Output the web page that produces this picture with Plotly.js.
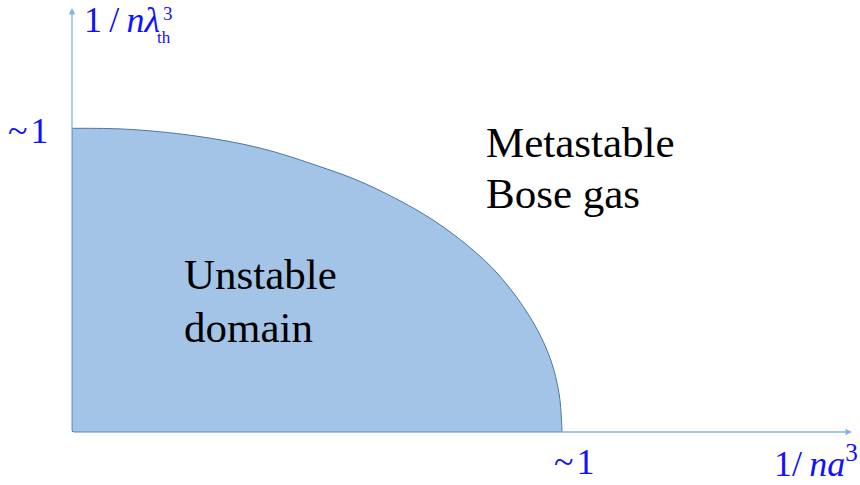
<!DOCTYPE html>
<html>
<head>
<meta charset="utf-8">
<script src="https://cdn.plot.ly/plotly-3.0.1.min.js"></script>
<style>html,body{margin:0;padding:0;background:#fff;}#chart{width:860px;height:485px;}</style>
</head>
<body>
<div id="chart"></div>
<script>
// Boundary of the unstable domain (x = 1/na^3, y = 1/nλ_th^3), scaled so that "~1" = 1
const boundaryX = [0, 0.112, 0.247, 0.384, 0.506, 0.601, 0.737, 0.841, 0.894, 0.945, 0.977, 0.994, 0.999, 1.0];
const boundaryY = [0.999, 0.996, 0.975, 0.934, 0.873, 0.815, 0.697, 0.566, 0.472, 0.35, 0.237, 0.127, 0.039, 0.0];
const tickLabel = "~\u200A1";
const xAxisLabel = "1/\u2009<i>na</i><sup>3</sup>";
const yAxisLabelMain = "1\u2009/\u2009<i>nλ</i>";
const yAxisLabelSup = "3";
const yAxisLabelSub = "th";
const regionLabels = [["Unstable", "domain"], ["Metastable", "Bose gas"]];

const W = 860, H = 485;
const L = 72, R = 8, T = 8, B = 53;
const pxPerX = 490, pxPerY = 304;
const plotW = W - L - R, plotH = H - T - B;
const xMax = plotW / pxPerX;
const yMax = plotH / pxPerY;
const pxX = p => (p - L) / plotW;      // pixel -> paper x
const pxY = p => (H - B - p) / plotH;  // pixel -> paper y

const serif = "Liberation Serif";
const blue = "#1212ff";
const axisCol = "#86b3de";
const edgeCol = "#4a78a6";

const n = boundaryX.length;
const fillTrace = {
  x: boundaryX, y: boundaryY, type: "scatter", mode: "lines",
  fill: "tozeroy", fillcolor: "#a3c4e6",
  line: {color: edgeCol, width: 1, shape: "spline", smoothing: 1},
  hoverinfo: "skip", cliponaxis: false
};
const leftEdge = {
  x: [boundaryX[0], boundaryX[0]], y: [0, boundaryY[0]], type: "scatter", mode: "lines",
  line: {color: edgeCol, width: 1.5}, hoverinfo: "skip", cliponaxis: false
};
const bottomEdge = {
  x: [boundaryX[0], boundaryX[n - 1]], y: [0, 0], type: "scatter", mode: "lines",
  line: {color: edgeCol, width: 1.5}, hoverinfo: "skip", cliponaxis: false
};

const ann = [];
// axis arrows
ann.push({x: xMax, y: 0, ax: 0, ay: 0, xref: "x", yref: "y", axref: "x", ayref: "y",
  showarrow: true, arrowhead: 2, arrowsize: 1, arrowwidth: 1.3, arrowcolor: axisCol, text: ""});
ann.push({x: 0, y: yMax, ax: 0, ay: 0, xref: "x", yref: "y", axref: "x", ayref: "y",
  showarrow: true, arrowhead: 2, arrowsize: 1, arrowwidth: 1.3, arrowcolor: axisCol, text: ""});

function txt(t, px, py, xanchor, size, color) {
  ann.push({xref: "paper", yref: "paper", x: pxX(px), y: pxY(py), xanchor: xanchor, yanchor: "middle",
    text: t, showarrow: false, font: {family: serif, size: size, color: color}});
}
// "~1" labels on the axes
txt(tickLabel, 50, 131, "right", 36, blue);
txt(tickLabel, 574, 462, "center", 36, blue);
// axis titles
txt(xAxisLabel, 860, 462, "right", 36, blue);
txt(yAxisLabelMain, 82, 20, "left", 36, blue);
txt(yAxisLabelSup, 161, 13, "left", 19, blue);
txt(yAxisLabelSub, 155, 37, "left", 17, blue);
// region labels
const regionPos = [[182, 274, 327], [484, 142, 194]];
regionLabels.forEach((lines, i) => {
  lines.forEach((t, j) => txt(t, regionPos[i][0], regionPos[i][1 + j], "left", 43, "#000"));
});

const layout = {
  width: W, height: H,
  margin: {l: L, r: R, t: T, b: B, pad: 0},
  paper_bgcolor: "#fff", plot_bgcolor: "#fff",
  showlegend: false,
  xaxis: {range: [0, xMax], visible: false, fixedrange: true},
  yaxis: {range: [0, yMax], visible: false, fixedrange: true},
  annotations: ann
};
Plotly.newPlot("chart", [fillTrace, leftEdge, bottomEdge], layout, {displayModeBar: false, staticPlot: true});
</script>
</body>
</html>
